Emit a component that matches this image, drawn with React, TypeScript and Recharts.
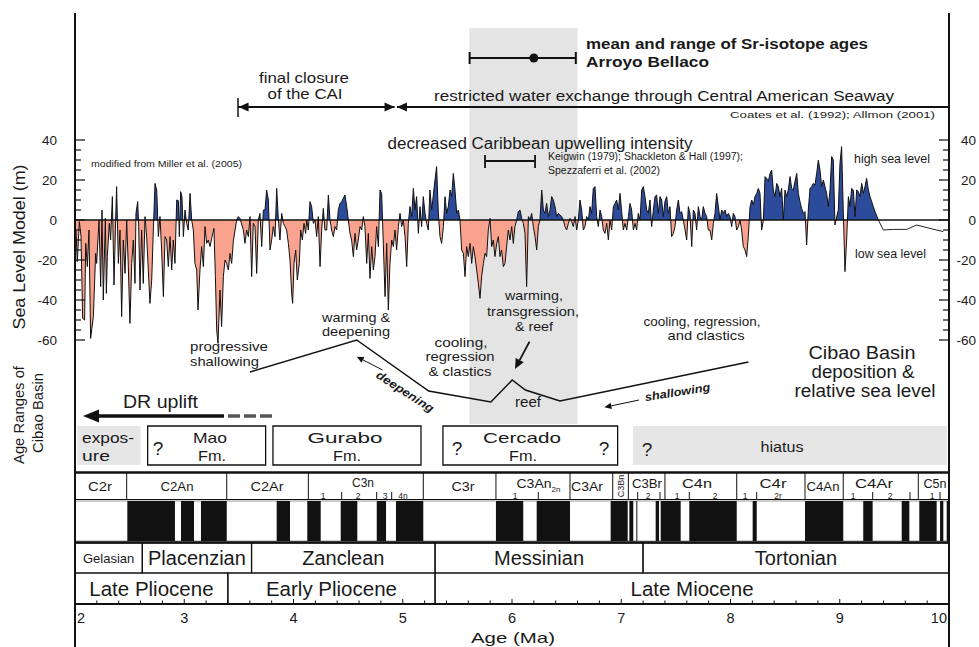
import React from 'react';
import {
  ComposedChart,
  Area,
  Line,
  XAxis,
  YAxis,
  ReferenceLine,
  ReferenceArea,
  ReferenceDot,
} from 'recharts';

// sea level model (m) vs age (Ma)
const ages = [
  2.009, 2.021, 2.04, 2.055, 2.07, 2.088, 2.098, 2.113, 2.128, 2.143, 2.168, 2.189, 2.198, 2.22, 2.235, 2.247,
  2.259, 2.278, 2.287, 2.296, 2.314, 2.326, 2.342, 2.357, 2.372, 2.381, 2.397, 2.412, 2.427, 2.442, 2.458, 2.473,
  2.488, 2.503, 2.519, 2.534, 2.549, 2.558, 2.574, 2.583, 2.595, 2.61, 2.625, 2.641, 2.656, 2.671, 2.686, 2.702,
  2.717, 2.732, 2.748, 2.763, 2.778, 2.793, 2.809, 2.824, 2.839, 2.854, 2.87, 2.885, 2.9, 2.915, 2.931, 2.946,
  2.955, 2.967, 2.979, 2.992, 3.007, 3.022, 3.037, 3.053, 3.068, 3.083, 3.098, 3.114, 3.126, 3.144, 3.159, 3.175,
  3.19, 3.205, 3.22, 3.236, 3.251, 3.272, 3.285, 3.297, 3.309, 3.327, 3.342, 3.358, 3.373, 3.388, 3.404, 3.419,
  3.434, 3.449, 3.465, 3.48, 3.495, 3.51,
  3.541, 3.556, 3.571, 3.587, 3.602, 3.617, 3.632, 3.648, 3.663, 3.678, 3.693, 3.709, 3.724, 3.739, 3.754, 3.77,
  3.785, 3.8, 3.815, 3.831, 3.846, 3.861, 3.876, 3.892, 3.907, 3.922, 3.937, 3.953, 3.968, 3.983, 3.992, 4.005,
  4.02, 4.035, 4.053, 4.066, 4.081, 4.096, 4.111, 4.121, 4.136, 4.151, 4.166, 4.182, 4.197, 4.212, 4.227, 4.243,
  4.258, 4.273, 4.288, 4.304, 4.319, 4.334, 4.349, 4.365, 4.38, 4.395, 4.41, 4.426, 4.441, 4.456, 4.471, 4.487,
  4.502, 4.517, 4.532, 4.548, 4.563, 4.578, 4.593, 4.609, 4.624, 4.639, 4.654, 4.67, 4.685, 4.7, 4.716, 4.731,
  4.746, 4.761, 4.777, 4.792, 4.807, 4.822, 4.838, 4.853, 4.868, 4.883, 4.899, 4.914, 4.929, 4.944, 4.96, 4.975,
  4.99, 5.005, 5.021, 5.036, 5.051,
  5.066, 5.082, 5.097, 5.112, 5.127, 5.143, 5.158, 5.173, 5.188, 5.204, 5.219, 5.234, 5.249, 5.265, 5.28, 5.295,
  5.31, 5.326, 5.341, 5.356, 5.372, 5.387, 5.402, 5.417, 5.433, 5.448, 5.463, 5.478, 5.494, 5.509, 5.524, 5.539,
  5.555, 5.57, 5.585, 5.6, 5.616, 5.631, 5.646, 5.661, 5.677, 5.692, 5.707, 5.722, 5.738, 5.753, 5.768, 5.783,
  5.799, 5.814, 5.829, 5.844, 5.86, 5.875, 5.89, 5.905, 5.921, 5.936, 5.951, 5.966, 5.982, 5.997, 6.012, 6.027,
  6.043, 6.058, 6.073, 6.089, 6.104, 6.119, 6.134, 6.15, 6.165, 6.18, 6.195, 6.211, 6.226, 6.241, 6.256, 6.272,
  6.287, 6.302, 6.317, 6.333, 6.348, 6.363, 6.378, 6.394, 6.409, 6.424, 6.439, 6.455, 6.47, 6.485, 6.5, 6.516,
  6.531, 6.546, 6.561, 6.577, 6.592, 6.607,
  6.622, 6.638, 6.653, 6.668, 6.683, 6.699, 6.714, 6.729, 6.744, 6.76, 6.775, 6.79, 6.806, 6.821, 6.836, 6.851,
  6.867, 6.882, 6.897, 6.912, 6.928, 6.943, 6.958, 6.973, 6.989, 7.004, 7.019, 7.034, 7.05, 7.065, 7.08, 7.095,
  7.111, 7.126, 7.141, 7.156, 7.172, 7.187, 7.202, 7.217, 7.233, 7.248, 7.263, 7.278, 7.294, 7.309, 7.324, 7.339,
  7.355, 7.37, 7.385, 7.4, 7.416, 7.431, 7.446, 7.461, 7.477, 7.492, 7.507, 7.523, 7.538, 7.553, 7.568, 7.584,
  7.599, 7.614, 7.629, 7.645, 7.66, 7.675, 7.69, 7.706, 7.721, 7.736, 7.751, 7.767, 7.782, 7.797, 7.812, 7.828,
  7.843, 7.858, 7.873, 7.889, 7.904, 7.919, 7.934, 7.95, 7.965, 7.98, 7.995, 8.011, 8.026, 8.041, 8.056, 8.072,
  8.087, 8.102, 8.117, 8.133, 8.148, 8.163,
  8.179, 8.194, 8.209, 8.224, 8.24, 8.255, 8.27, 8.285, 8.301, 8.316, 8.331, 8.346, 8.362, 8.377, 8.392, 8.407,
  8.423, 8.438, 8.453, 8.468, 8.484, 8.499, 8.514, 8.529, 8.545, 8.56, 8.575, 8.59, 8.606, 8.621, 8.636, 8.651,
  8.667, 8.682, 8.697, 8.712, 8.728, 8.743, 8.758, 8.773, 8.789, 8.804, 8.819, 8.834, 8.85, 8.865, 8.88, 8.895,
  8.911, 8.926, 8.941, 8.956, 8.972, 8.987, 9.002, 9.017, 9.033, 9.048, 9.063, 9.079, 9.094, 9.109, 9.124, 9.14,
  9.155, 9.17, 9.185, 9.201, 9.216, 9.231, 9.246, 9.262, 9.277, 9.292, 9.307, 9.323, 9.353,
];

const seaLevel = [
  -5, -20.8, -0.8, -8.3, -49.2, -50, -11.7, -23.3, -5, -59.2, -48.3, -16.7, -21.7, 0, -33.3, 5,
  -40, 0.8, -36.7, -18.3, -1.7, -10, 11.7, -32.5, 0, 16.7, -21.7, -5, -48.3, -10, -26.7, 0,
  -23.3, -51.7, -21.7, -10, -31.7, 3.3, 9.2, -3.3, -35, -5, -31.7, 1.7, -8.3, -25, -41.7, -30,
  -5, 18.3, 15, -8.3, 1.7, -15, -38.3, -8.3, -10, -23.3, -8.3, -25, -10, -21.7, 10, 9.7,
  -8.3, 14.2, 11.7, -8.3, 5, -1.7, -5, 13.3, 0, -5, -21.7, -25, -45, -25, -13.3, -23.3,
  -3.3, -11.7, -10, -13.3, -9.2, -4.2, -28.3, -55, -61.7, -35, -53.3, -28.3, -20, -21.7, -25, -16.7,
  -21.7, -10.8, -5, 0, 1.7, 0.8,
  -5, -11.7, -5, -8.3, 1.7, -28.3, -1.7, -3.3, -26.7, 0, 3.3, -13.3, 5, 5, 15, 10,
  -15, -10, -3.3, -8.3, 15.8, 0.8, -10, 3.3, -1.7, -3.3, -5, -11.7, -20, -36.7, -41.7, -21.7,
  -15, -30, -21.7, -5, -10, -1.7, -6.7, 0, -5, 9.2, 6.7, -1.7, 0, -8.3, 1.7, -23.3,
  -5, 5.8, -5, -5, 12.5, 0, -5, -8.3, -3.3, -5, 5, 8.3, 9.2, 10.8, 12.5, 6.7,
  0, -6.7, -10, -18.3, -6.7, -15, -10, -3.3, -5, 1.7, -3.3, -21.7, -6.7, -29.2, -13.3, -25,
  -18.3, -3.3, -13.3, 15, 13.3, -11.7, -38.3, -11.7, -45, -21.7, -10, -13.3, -5, -15, -3.3, 3.3,
  -3.3, 0, -8.3, -23.3, -1.7,
  6.7, 1.7, 15.8, 5, 11.7, -6.7, 6.7, -3.3, 11.7, 3.3, -1.7, -5, 15, 5, 12.5, 20,
  26.7, 3.3, -8.3, -11.7, -3.3, 11.7, 3.3, 6.7, 15, 11.7, 23.3, 15, 3.3, 5, 0, -15,
  -16.7, -28.3, -13.3, -18.3, -11.7, -21.7, -13.3, -18.3, -25, -31.7, -39.2, -28.3, -21.7, -16.7, -18.3, -5,
  0.8, -13.3, -10, -18.3, -11.7, -8.3, -18.3, -15, -23.3, -21.7, -13.3, -5, -10, -3.3, -11.7, -3.3,
  0, 4.2, 5, 0.8, -1.7, -6.7, -33.3, 1.7, 0, 3.3, -3.3, -8.3, -15, -3.3, 0, 15,
  5, 3.3, 8.3, 1.7, 5, 11.7, 10, 6.7, 1.7, 3.3, 2.5, 1.7, 0, -3.3, -5, -1.7,
  0.8, -0.8, -3.3, 1.7, -5, 0,
  10, 5, -5, -3.3, 1.7, 0, 6.7, 3.3, 15.8, 16.7, 1.7, -3.3, 5, 1.7, -5, -6.7,
  -1.7, -10, 0, -5, 6.7, 8.3, 10, 5, 13.3, 4.2, -5, -1.7, -5, 1.7, 8.3, 5,
  -5, -1.7, -5, 3.3, 0, 15, 16.7, 11.7, 5, 3.3, 10, -3.3, 5, 11.7, 12.5, 3.3,
  11.7, 10, 1.7, 9.2, 11.7, 3.3, 6.7, -8.3, -6.7, -3.3, 5, 10, 3.3, 4.2, 0, -5,
  -10, 6.7, 3.3, -13.3, 5, 3.3, -5, 6.7, 1.7, 0, 6.7, 3.3, 1.7, -5, -5, -10,
  -1.7, 3.3, 13.3, 6.7, 0, 5, 3.3, 5, 1.7, 3.3, 1.7, -3.3, 3.3, 1.7, -5, -3.3,
  0, -5, -13.3, -15, -18.3, -8.3,
  6.7, 10, 7.5, 11.7, 13.3, 15.8, 13.3, -5, 0, 21.7, 20.8, 19.2, 23.3, 25, 15, 11.7,
  18.3, 16.7, 11.7, 15.8, 0, 15, 11.7, 15, 21.7, 15.8, 15, 19.2, 23.3, 13.3, 9.2, 5.8,
  3.3, 4.2, -12.5, 5, 15.8, 16.7, 18.3, 17.5, 23.3, 30, 25, 16.7, 20, 16.7, 13.3, 6.7,
  15, 31.7, 30, -2.5, 1.7, 5, 28.3, 36.7, 3.3, -25.8, -10, 11.7, 6.7, 15.8, 15, 1.7,
  15, 14.2, 11.7, 18.3, 13.3, 16.7, 20.8, 15, 11.7, 9.2, 6.7, 4.2, 0,
];

// youngest part of the record, drawn as a plain line
const tailAges = [9.353, 9.399, 9.49, 9.613, 9.704, 9.826, 9.948];
const tailLevels = [0, -5, -4.7, -4.7, -2.5, -4.2, -5.8];

const seaTicks = [-60, -55, -50, -45, -40, -35, -30, -25, -20, -15, -10, -5, 0, 5, 10, 15, 20, 25, 30, 35, 40];
const ageLabels = [2, 3, 4, 5, 6, 7, 8, 9, 10];
const ageTicks = Array.from({ length: 41 }, (_, i) => 2 + i * 0.2);
const topTicks = Array.from({ length: 25 }, (_, i) => 2 + i / 3);

// magnetostratigraphy: normal polarity intervals (Ma)
const normalChrons: [number, number][] = [
  [2.479, 2.915], [2.97, 3.089], [3.153, 3.389], [3.846, 3.968], [4.126, 4.249], [4.432, 4.584],
  [4.762, 4.847], [4.938, 5.188], [5.853, 6.103], [6.226, 6.531], [6.903, 7.059], [7.074, 7.11],
  [7.138, 7.147], [7.315, 7.346], [7.361, 7.544], [7.623, 8.057], [8.203, 8.24], [8.682, 9.032],
  [9.215, 9.301], [9.567, 9.637], [9.728, 9.887], [9.918, 9.948], [9.979, 10],
];
const chronBounds = [2.473, 3.389, 4.136, 5.188, 5.853, 6.531, 6.922, 7.065, 7.4, 8.057, 8.682, 9.032, 9.719];

const stageNames = ['Gelasian', 'Placenzian', 'Zanclean', 'Messinian', 'Tortonian'];
const stageBounds = [2, 2.616, 3.616, 5.296, 7.199, 10];
const epochNames = ['Late Pliocene', 'Early Pliocene', 'Late Miocene'];
const epochBounds = [2, 3.399, 5.296, 10];

// age ranges of Cibao Basin units (Ma)
const formations = [
  { from: 2.02, to: 2.6, shaded: true },
  { from: 2.665, to: 3.745, shaded: false },
  { from: 3.812, to: 5.167, shaded: false },
  { from: 5.368, to: 6.967, shaded: false },
  { from: 7.107, to: 9.982, shaded: true },
];

const srBand = [5.61, 6.6];
const srRange = [5.612, 6.584];
const srMean = 6.2;
const upwellingRange = [5.753, 6.211];
const caiClosure = [3.492, 4.925];
const seawayStart = 4.947;

const HIGH = '#2d4b9b';
const LOW = '#f9a38f';
const INK = '#1a1a1a';
const FONT = '"Liberation Sans", Arial, Helvetica, sans-serif';

const slMax = Math.max(0, ...seaLevel);
const slMin = Math.min(0, ...seaLevel);
const zeroOffset = slMax / (slMax - slMin);

const seaData = [
  ...ages.map((age, i) => ({ age, sl: seaLevel[i] })),
  ...tailAges.map((age, i) => ({ age, tail: tailLevels[i] })),
];

type Spec = {
  t: string; x: number; y: number; size: number; anchor?: string; w?: number;
  bold?: boolean; italic?: boolean; rot?: number;
};

const notes: Spec[] = [
  { t: 'mean and range of Sr-isotope ages', x: 586, y: 49, size: 14.5, anchor: 'start', w: 282, bold: true },
  { t: 'Arroyo Bellaco', x: 586, y: 67, size: 14.5, anchor: 'start', w: 123, bold: true },
  { t: 'final closure', x: 304, y: 83, size: 15, w: 90 },
  { t: 'of the CAI', x: 305, y: 99, size: 15, w: 75 },
  { t: 'restricted water exchange through Central American Seaway', x: 664, y: 101, size: 15.5, w: 460 },
  { t: 'Coates et al. (1992); Allmon (2001)', x: 730, y: 118, size: 9.5, anchor: 'start', w: 205 },
  { t: 'decreased Caribbean upwelling intensity', x: 540, y: 149, size: 16, w: 305 },
  { t: 'Keigwin (1979); Shackleton & Hall (1997);', x: 548, y: 160, size: 10, anchor: 'start', w: 195 },
  { t: 'Spezzaferri et al. (2002)', x: 548, y: 174, size: 10, anchor: 'start', w: 112 },
  { t: 'modified from Miller et al. (2005)', x: 91, y: 167, size: 9.5, anchor: 'start', w: 151 },
  { t: 'high sea level', x: 854, y: 163, size: 12, anchor: 'start', w: 76 },
  { t: 'low sea level', x: 855, y: 258, size: 12, anchor: 'start', w: 71 },
  { t: 'progressive', x: 190, y: 351, size: 13.5, anchor: 'start', w: 78 },
  { t: 'shallowing', x: 190, y: 366, size: 13.5, anchor: 'start', w: 69 },
  { t: 'warming &', x: 356, y: 322, size: 13, w: 68 },
  { t: 'deepening', x: 356, y: 336, size: 13, w: 68 },
  { t: 'cooling,', x: 461, y: 347, size: 13, w: 53 },
  { t: 'regression', x: 460, y: 361, size: 13, w: 69 },
  { t: '& clastics', x: 460, y: 376, size: 13, w: 63 },
  { t: 'warming,', x: 534, y: 300, size: 13.5, w: 58 },
  { t: 'transgression,', x: 533, y: 316, size: 13.5, w: 92 },
  { t: '& reef', x: 534, y: 331, size: 13.5, w: 38 },
  { t: 'cooling, regression,', x: 702, y: 326, size: 13, w: 117 },
  { t: 'and clastics', x: 706, y: 340, size: 13, w: 77 },
  { t: 'Cibao Basin', x: 862, y: 359, size: 17.5, w: 107 },
  { t: 'deposition &', x: 863, y: 378, size: 17.5, w: 103 },
  { t: 'relative sea level', x: 865, y: 397, size: 17.5, w: 141 },
  { t: 'reef', x: 528, y: 407, size: 14, w: 26 },
  { t: 'deepening', x: 403, y: 395, size: 11.5, w: 66, bold: true, italic: true, rot: 33 },
  { t: 'shallowing', x: 678, y: 396, size: 11.5, w: 66, bold: true, italic: true, rot: -9 },
  { t: 'DR uplift', x: 123, y: 408, size: 19, anchor: 'start', w: 75 },
  { t: 'expos-', x: 82, y: 443, size: 15, anchor: 'start', w: 52 },
  { t: 'ure', x: 82, y: 461, size: 15, anchor: 'start', w: 28 },
  { t: '?', x: 158, y: 455, size: 19 },
  { t: 'Mao', x: 210, y: 443, size: 15, w: 34 },
  { t: 'Fm.', x: 212, y: 461, size: 15, w: 28 },
  { t: 'Gurabo', x: 345, y: 443, size: 15, w: 75 },
  { t: 'Fm.', x: 347, y: 461, size: 15, w: 28 },
  { t: '?', x: 457, y: 455, size: 19 },
  { t: 'Cercado', x: 522, y: 443, size: 15, w: 78 },
  { t: 'Fm.', x: 523, y: 461, size: 15, w: 28 },
  { t: '?', x: 604, y: 455, size: 19 },
  { t: '?', x: 647, y: 456, size: 19 },
  { t: 'hiatus', x: 782, y: 452, size: 15, w: 43 },
  { t: 'Sea Level Model (m)', x: 25, y: 247, size: 16, w: 165, rot: -90 },
  { t: 'Age Ranges of', x: 24, y: 415, size: 15, w: 98, rot: -90 },
  { t: 'Cibao Basin', x: 43, y: 413, size: 15, w: 80, rot: -90 },
  { t: 'Age (Ma)', x: 513, y: 643, size: 15, w: 84 },
  // chron names
  { t: 'C2r', x: 100, y: 491, size: 12.5, w: 24 },
  { t: 'C2An', x: 177, y: 491, size: 12.5, w: 33 },
  { t: 'C2Ar', x: 267, y: 491, size: 12.5, w: 33 },
  { t: 'C3n', x: 363, y: 487, size: 12, w: 22 },
  { t: 'C3r', x: 463, y: 491, size: 12.5, w: 23 },
  { t: 'C3An', x: 534, y: 487.5, size: 12, w: 35 },
  { t: '2n', x: 556, y: 492, size: 8 },
  { t: 'C3Ar', x: 587, y: 491, size: 12.5, w: 32 },
  { t: 'C3Bn', x: 624, y: 486, size: 9, rot: -90 },
  { t: 'C3Br', x: 647, y: 487.5, size: 12, w: 30 },
  { t: 'C4n', x: 697, y: 487.5, size: 12, w: 30 },
  { t: 'C4r', x: 773, y: 487.5, size: 12, w: 27 },
  { t: 'C4An', x: 823, y: 491, size: 12.5, w: 33 },
  { t: 'C4Ar', x: 874, y: 487.5, size: 12, w: 38 },
  { t: 'C5n', x: 935, y: 487.5, size: 12, w: 23 },
];

const subChrons: [string, number][] = [
  ['1', 323], ['2', 358], ['3', 385], ['4n', 403], ['1', 515], ['2', 648], ['1', 677],
  ['2', 715], ['1', 745], ['2r', 778], ['1', 853], ['2', 890], ['1', 932],
];
const subTicks = [341.7, 376.7, 391.7, 538.3, 637.7, 660, 689.3, 756.7, 872.7, 910, 940];

const relSeaLevel = [
  [250, 372], [356.7, 340], [428.7, 391], [490.9, 402], [512.2, 380], [525.4, 390], [560, 401], [748.4, 362],
];

const SeaTick = ({ x, y, payload, side }: any) => {
  const v = payload.value;
  const major = v % 20 === 0;
  const dir = side === 'left' ? 1 : -1;
  return (
    <g>
      <line x1={x} x2={x + dir * (major ? 10 : 6)} y1={y} y2={y} stroke="#111" strokeWidth={1.2} />
      {major && (
        <text x={side === 'left' ? x - 18 : x + 27} y={y + 5} textAnchor="end" fontSize={13.5} fill={INK}>
          {v}
        </text>
      )}
    </g>
  );
};

const AgeTick = ({ x, y, payload }: any) => {
  const v = payload.value;
  const major = Math.abs(v - Math.round(v)) < 1e-6;
  const anchor = v < 2.5 ? 'start' : v > 9.5 ? 'end' : 'middle';
  return (
    <g>
      <line x1={x} x2={x} y1={y} y2={y - (major ? 5 : 3.5)} stroke="#111" strokeWidth={1} />
      {major && ageLabels.includes(Math.round(v)) && (
        <text x={anchor === 'start' ? x + 2 : anchor === 'end' ? x - 2 : x} y={y + 19} textAnchor={anchor} fontSize={14.5} fill={INK}>
          {Math.round(v)}
        </text>
      )}
    </g>
  );
};

const TopTick = ({ x, y }: any) => <line x1={x} x2={x} y1={y} y2={y + 5} stroke="#111" strokeWidth={1} />;

const headLeft = (p: any) => <path d={`M${p.cx},${p.cy} l10,-4.5 l0,9 z`} fill="#111" />;
const headRight = (p: any) => <path d={`M${p.cx},${p.cy} l-10,-4.5 l0,9 z`} fill="#111" />;

const Note = ({ s }: { s: Spec }) => (
  <text
    x={s.x}
    y={s.y}
    fontSize={s.size}
    textAnchor={(s.anchor ?? 'middle') as any}
    fontWeight={s.bold ? 700 : 400}
    fontStyle={s.italic ? 'italic' : 'normal'}
    textLength={s.w}
    lengthAdjust={s.w ? 'spacingAndGlyphs' : undefined}
    transform={s.rot ? `rotate(${s.rot} ${s.x} ${s.y})` : undefined}
    fill={INK}
  >
    {s.t}
  </text>
);

const Arrow = ({ from, to, w = 1.2, head = 7 }: { from: number[]; to: number[]; w?: number; head?: number }) => {
  const a = Math.atan2(to[1] - from[1], to[0] - from[0]);
  const bx = to[0] - Math.cos(a) * head;
  const by = to[1] - Math.sin(a) * head;
  const px = Math.sin(a) * head * 0.45;
  const py = -Math.cos(a) * head * 0.45;
  return (
    <g>
      <line x1={from[0]} y1={from[1]} x2={bx} y2={by} stroke="#111" strokeWidth={w} />
      <path d={`M${to[0]},${to[1]} L${bx + px},${by + py} L${bx - px},${by - py} Z`} fill="#111" />
    </g>
  );
};

const App: React.FC = () => {
  return (
    <div style={{ position: 'absolute', left: 0, top: 0, width: 979, height: 647, background: '#fff', fontFamily: FONT }}>
      <svg width={0} height={0} style={{ position: 'absolute' }}>
        <defs>
          <linearGradient id="slFill" x1="0" y1="0" x2="0" y2="1">
            <stop offset={zeroOffset} stopColor={HIGH} />
            <stop offset={zeroOffset} stopColor={LOW} />
          </linearGradient>
        </defs>
      </svg>
      <ComposedChart
        width={979}
        height={647}
        data={seaData}
        margin={{ top: 14, right: 0, bottom: 0, left: 30 }}
        style={{ fontFamily: FONT }}
      >
        <XAxis
          dataKey="age"
          type="number"
          domain={[2, 10]}
          ticks={ageTicks}
          interval={0}
          allowDataOverflow
          height={43}
          tickSize={0}
          tickMargin={0}
          tickLine={false}
          axisLine={{ stroke: '#111', strokeWidth: 2 }}
          tick={<AgeTick />}
        />
        <XAxis
          xAxisId="top"
          orientation="top"
          dataKey="age"
          type="number"
          domain={[2, 10]}
          ticks={topTicks}
          interval={0}
          allowDataOverflow
          height={0}
          tickSize={0}
          tickMargin={0}
          tickLine={false}
          axisLine={{ stroke: '#111', strokeWidth: 2 }}
          tick={<TopTick />}
        />
        <YAxis
          yAxisId="sl"
          type="number"
          domain={[-192, 103]}
          ticks={seaTicks}
          interval={0}
          allowDataOverflow
          width={45}
          tickSize={0}
          tickMargin={0}
          tickLine={false}
          axisLine={{ stroke: '#111', strokeWidth: 2 }}
          tick={<SeaTick side="left" />}
        />
        <YAxis
          yAxisId="slR"
          orientation="right"
          type="number"
          domain={[-192, 103]}
          ticks={seaTicks}
          interval={0}
          allowDataOverflow
          width={30}
          tickSize={0}
          tickMargin={0}
          tickLine={false}
          axisLine={{ stroke: '#111', strokeWidth: 2 }}
          tick={<SeaTick side="right" />}
        />
        <YAxis yAxisId="lay" hide width={0} orientation="right" type="number" domain={[14, 604]} reversed allowDataOverflow />

        <ReferenceArea yAxisId="lay" x1={srBand[0]} x2={srBand[1]} y1={28} y2={424} fill="#e4e4e4" fillOpacity={1} stroke="none" />

        <Area
          yAxisId="sl"
          type="linear"
          dataKey="sl"
          baseValue={0}
          stroke="#111"
          strokeWidth={1}
          fill="url(#slFill)"
          fillOpacity={1}
          dot={false}
          activeDot={false}
          isAnimationActive={false}
        />
        <Line
          yAxisId="sl"
          type="linear"
          dataKey="tail"
          stroke="#222"
          strokeWidth={1}
          dot={false}
          activeDot={false}
          isAnimationActive={false}
        />
        <ReferenceLine yAxisId="sl" y={0} stroke="#111" strokeWidth={1.3} />

        {/* Sr-isotope age range */}
        <ReferenceLine yAxisId="lay" segment={[{ x: srRange[0], y: 58 }, { x: srRange[1], y: 58 }]} stroke="#111" strokeWidth={2} />
        <ReferenceLine yAxisId="lay" segment={[{ x: srRange[0], y: 52 }, { x: srRange[0], y: 64 }]} stroke="#111" strokeWidth={2} />
        <ReferenceLine yAxisId="lay" segment={[{ x: srRange[1], y: 52 }, { x: srRange[1], y: 64 }]} stroke="#111" strokeWidth={2} />
        <ReferenceDot yAxisId="lay" x={srMean} y={58} r={4.5} fill="#111" stroke="none" />

        {/* upwelling range */}
        <ReferenceLine yAxisId="lay" segment={[{ x: upwellingRange[0], y: 161 }, { x: upwellingRange[1], y: 161 }]} stroke="#111" strokeWidth={1.8} />
        <ReferenceLine yAxisId="lay" segment={[{ x: upwellingRange[0], y: 155 }, { x: upwellingRange[0], y: 168 }]} stroke="#111" strokeWidth={1.8} />
        <ReferenceLine yAxisId="lay" segment={[{ x: upwellingRange[1], y: 155 }, { x: upwellingRange[1], y: 168 }]} stroke="#111" strokeWidth={1.8} />

        {/* CAI closure and seaway */}
        <ReferenceLine yAxisId="lay" segment={[{ x: caiClosure[0], y: 98 }, { x: caiClosure[0], y: 117 }]} stroke="#111" strokeWidth={1.5} />
        <ReferenceLine yAxisId="lay" segment={[{ x: caiClosure[0], y: 107 }, { x: caiClosure[1], y: 107 }]} stroke="#111" strokeWidth={1.8} />
        <ReferenceLine yAxisId="lay" segment={[{ x: seawayStart, y: 107 }, { x: 10, y: 107 }]} stroke="#111" strokeWidth={1.8} />
        <ReferenceDot yAxisId="lay" x={caiClosure[0] + 0.005} y={107} shape={headLeft} />
        <ReferenceDot yAxisId="lay" x={caiClosure[1]} y={107} shape={headRight} />
        <ReferenceDot yAxisId="lay" x={seawayStart} y={107} shape={headLeft} />

        {/* formations */}
        {formations.map((f, i) => (
          <ReferenceArea
            key={`f${i}`}
            yAxisId="lay"
            x1={f.from}
            x2={f.to}
            y1={426}
            y2={465}
            fill={f.shaded ? '#e6e6e6' : '#fff'}
            fillOpacity={1}
            stroke={f.shaded ? 'none' : '#111'}
            strokeWidth={1.3}
          />
        ))}

        {/* magnetostratigraphy */}
        <ReferenceLine yAxisId="lay" y={472.5} stroke="#111" strokeWidth={2.5} />
        <ReferenceLine yAxisId="lay" y={499.5} stroke="#111" strokeWidth={1} />
        <ReferenceArea yAxisId="lay" x1={2} x2={10} y1={501} y2={541} fill="#fff" fillOpacity={1} stroke="#999" strokeWidth={1} />
        {normalChrons.map(([a, b], i) => (
          <ReferenceArea key={`c${i}`} yAxisId="lay" x1={a} x2={b} y1={501} y2={541} fill="#111" fillOpacity={1} stroke="none" />
        ))}
        {chronBounds.map((b, i) => (
          <ReferenceLine key={`cb${i}`} yAxisId="lay" segment={[{ x: b, y: 473 }, { x: b, y: 499.5 }]} stroke="#111" strokeWidth={1} />
        ))}
        <ReferenceLine yAxisId="lay" y={542.5} stroke="#111" strokeWidth={2.5} />

        {/* stages and epochs */}
        {stageNames.map((name, i) => (
          <ReferenceArea
            key={`s${i}`}
            yAxisId="lay"
            x1={stageBounds[i]}
            x2={stageBounds[i + 1]}
            y1={543}
            y2={573}
            fill="none"
            stroke="#111"
            strokeWidth={1.2}
            label={{ value: name, position: 'center', fontSize: i === 0 ? 13 : 20, fill: INK }}
          />
        ))}
        {epochNames.map((name, i) => (
          <ReferenceArea
            key={`e${i}`}
            yAxisId="lay"
            x1={epochBounds[i]}
            x2={epochBounds[i + 1]}
            y1={573}
            y2={604}
            fill="none"
            stroke="#111"
            strokeWidth={1.2}
            label={{ value: name, position: 'center', fontSize: 20.5, fill: INK }}
          />
        ))}
      </ComposedChart>

      <svg width={979} height={647} style={{ position: 'absolute', left: 0, top: 0, pointerEvents: 'none', fontFamily: FONT }}>
        <line x1={75} x2={75} y1={13} y2={647} stroke="#111" strokeWidth={2} />
        <line x1={949} x2={949} y1={13} y2={647} stroke="#111" strokeWidth={2} />
        <polyline points={relSeaLevel.map((p) => p.join(',')).join(' ')} fill="none" stroke="#111" strokeWidth={1.5} />
        <Arrow from={[382.6, 370]} to={[356.7, 356.7]} w={1} head={7} />
        <Arrow from={[639, 400]} to={[604.4, 407.3]} w={1} head={7} />
        <Arrow from={[529.5, 341.7]} to={[515, 369]} w={1.8} head={10} />
        <line x1={96} x2={224} y1={416} y2={416} stroke="#111" strokeWidth={3.5} />
        <path d="M83,416 L99,409.5 L99,422.5 Z" fill="#111" />
        <line x1={228} x2={272} y1={416} y2={416} stroke="#555" strokeWidth={3.5} strokeDasharray="12 4" />
        {subTicks.map((x, i) => (
          <line key={`st${i}`} x1={x} x2={x} y1={492} y2={499} stroke="#111" strokeWidth={1} />
        ))}
        {subChrons.map(([t, x], i) => (
          <text key={`sc${i}`} x={x} y={498.5} fontSize={8.5} textAnchor="middle" fill={INK}>
            {t}
          </text>
        ))}
        {notes.map((s, i) => (
          <Note key={i} s={s} />
        ))}
      </svg>
    </div>
  );
};

export default App;
